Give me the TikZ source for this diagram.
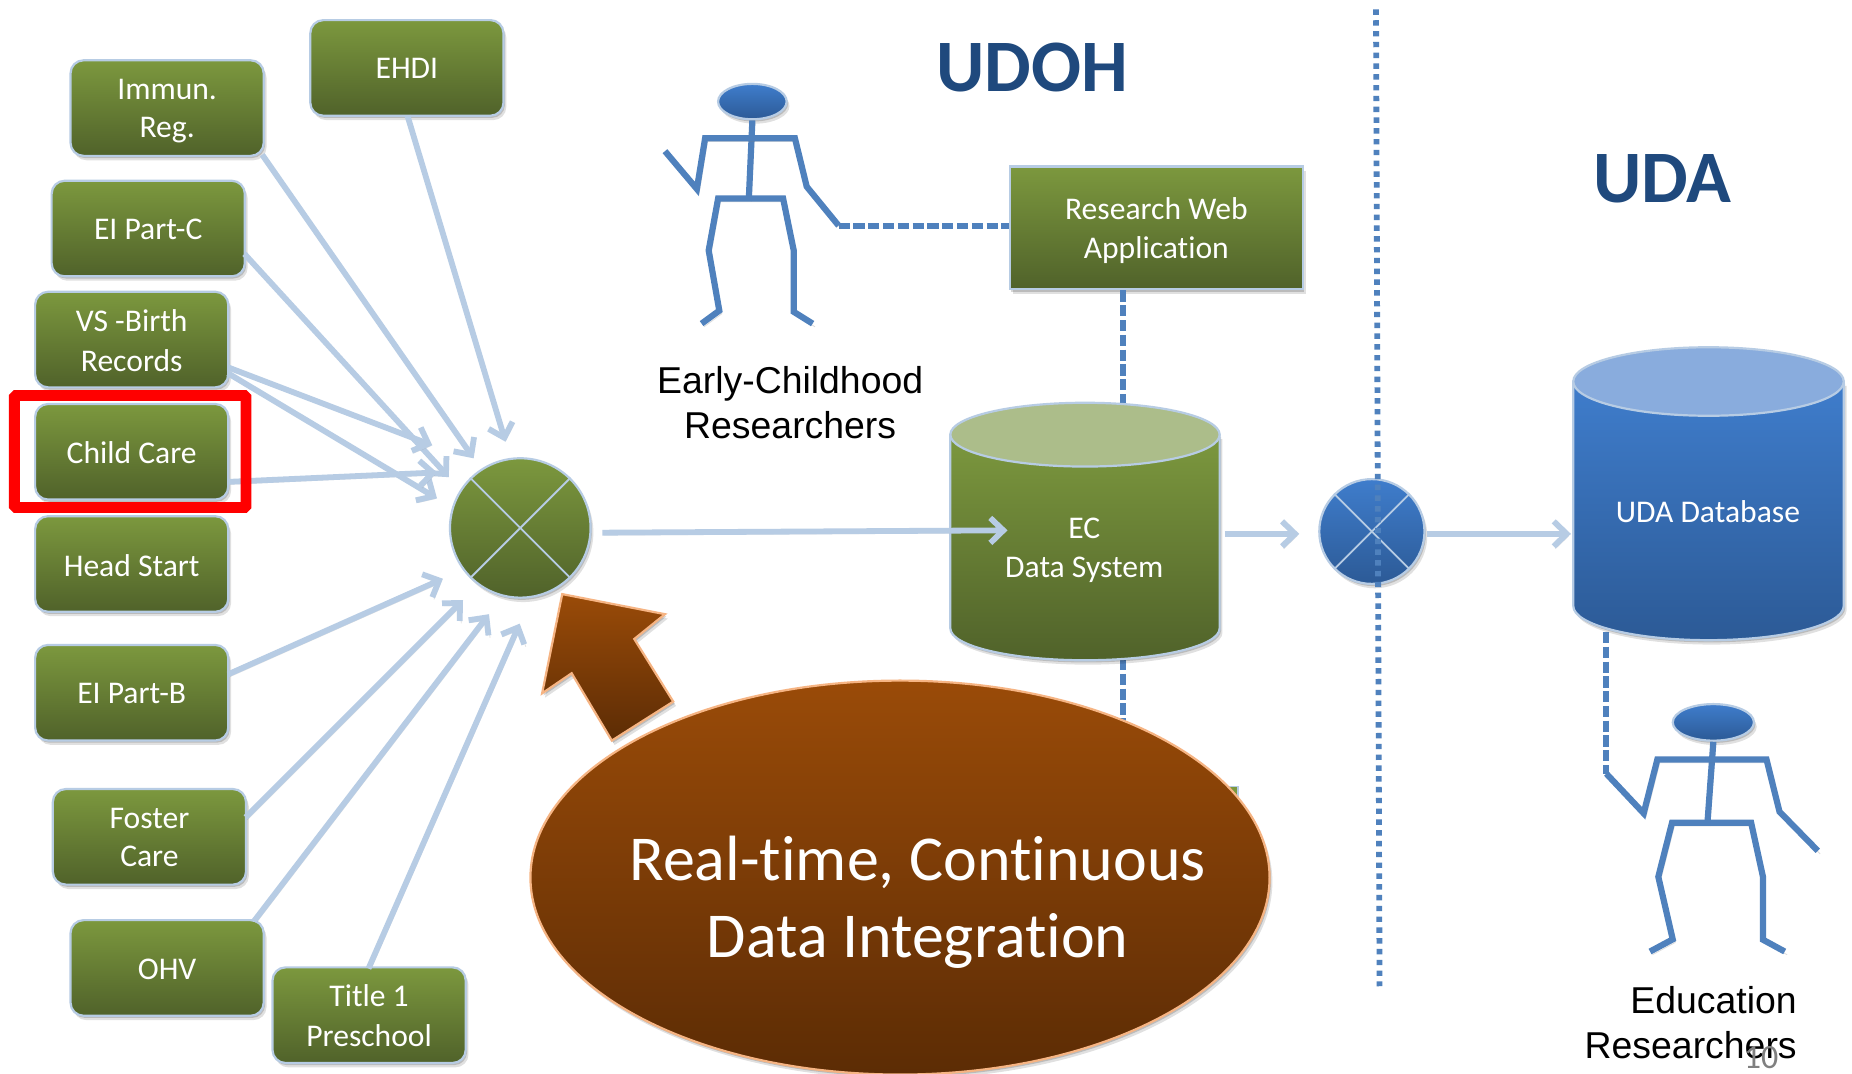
\documentclass[tikz,border=0pt]{standalone}
\usepackage{fontspec}
\setmainfont[Ligatures=NoCommon]{Carlito}
\newfontfamily\arialfont{Liberation Sans}
\usetikzlibrary{arrows.meta,shapes.geometric,shadows,calc}
\definecolor{gtop}{HTML}{7C983E}
\definecolor{gbot}{HTML}{50622A}
\definecolor{btop}{HTML}{3F7DCC}
\definecolor{bbot}{HTML}{2C5A96}
\definecolor{lblue}{HTML}{B7CCE4}
\definecolor{sblue}{HTML}{4F81BD}
\definecolor{navy}{HTML}{1F497D}
\definecolor{brtop}{HTML}{9A4B08}
\definecolor{brbot}{HTML}{5C2C05}
\definecolor{orangeline}{HTML}{F6B483}
\tikzset{
 softshadow/.style={drop shadow={shadow xshift=.7pt,shadow yshift=-1.1pt,opacity=.16,fill=black},
                    drop shadow={shadow xshift=1.4pt,shadow yshift=-2.2pt,opacity=.12,fill=black}},
 gshade/.style={top color=gtop,bottom color=gbot,draw=lblue,line width=1.1pt},
 bshade/.style={top color=btop,bottom color=bbot,draw=lblue,line width=1.1pt},
 srcbox/.style={gshade,softshadow,rounded corners=6.5pt,minimum width=96.6pt,minimum height=47.8pt,
   text=white,align=center,inner sep=0pt,font=\fontsize{15.8}{19.4}\selectfont},
 rectbox/.style={gshade,softshadow,minimum width=146.5pt,minimum height=61.4pt,
   text=white,align=center,inner sep=0pt,font=\fontsize{15.8}{19.4}\selectfont},
 mixg/.style={ellipse,gshade,softshadow,minimum width=70.3pt,minimum height=69.7pt,inner sep=0pt},
 mixb/.style={ellipse,bshade,softshadow,minimum width=52.6pt,minimum height=52.4pt,inner sep=0pt},
 xline/.style={lblue,line width=.9pt},
 conn/.style={lblue,line width=2.9pt,-{Straight Barb[length=6.5pt,width=12.5pt,line width=2.9pt]},
   preaction={draw=gray,opacity=.22,transform canvas={xshift=.8pt,yshift=-1.2pt}}},
 dashconn/.style={sblue,line width=3pt,dash pattern=on 5.6pt off 1.8pt},
 dotline/.style={sblue,line width=2.9pt,dash pattern=on 2.7pt off 2.7pt},
 stick/.style={sblue,line width=3.1pt,miter limit=4,
   preaction={draw=gray,opacity=.28,transform canvas={xshift=1.2pt,yshift=-1.6pt}}},
 head/.style={ellipse,bshade,softshadow,inner sep=0pt},
 celllabel/.style={text=white,align=center,inner sep=0pt,font=\fontsize{15.8}{19.4}\selectfont},
 blacklabel/.style={text=black,inner sep=0pt,font=\arialfont\fontsize{18.7}{22.6}\selectfont},
 bigtitle/.style={text=navy,inner sep=0pt,font=\bfseries\fontsize{37}{40}\selectfont},
 redframe/.style={draw={rgb,255:red,255;green,0;blue,0},line width=5.4pt,rounded corners=.8pt},
}
% cylinder: centre x, x radius, top centre y, bottom centre y, y radius, top fill colour, side style
\newcommand{\drumshape}[7]{%
 \pgfmathsetmacro{\cL}{#1-#2}\pgfmathsetmacro{\cR}{#1+#2}
 \pgfmathsetmacro{\kx}{.5523*#2}\pgfmathsetmacro{\ky}{.5523*#5}
 \pgfmathsetmacro{\bl}{#4+\ky}\pgfmathsetmacro{\bm}{#4+#5}
 \pgfmathsetmacro{\xa}{#1-\kx}\pgfmathsetmacro{\xb}{#1+\kx}
 \path[#7,softshadow] (\cL,#3) -- (\cL,#4) .. controls (\cL,\bl) and (\xa,\bm) .. (#1,\bm)
   .. controls (\xb,\bm) and (\cR,\bl) .. (\cR,#4) -- (\cR,#3) -- cycle;
 \path[fill=#6,draw=lblue,line width=1.1pt] (#1,#3) ellipse [x radius=#2,y radius=#5];
}
\newcommand{\dn}[2][.6pt]{\raisebox{-#1}[\height][\depth]{#2}}
\begin{document}
\begin{tikzpicture}[x=0.5906pt,y=-0.5906pt]
\useasboundingbox (0,0) rectangle (1568,909.3);
\fill[white] (0,0) rectangle (1568,909.3);

% named ends
\coordinate (eEHDI) at (428,374);
\coordinate (eImm) at (401,388);
\coordinate (eEIC) at (380,404);
\coordinate (eVSa) at (366,377);
\coordinate (eVSb) at (370,422);
\coordinate (eCC) at (370,400);
\coordinate (eEIB) at (375,490);
\coordinate (eFos) at (392,508);
\coordinate (eOHV) at (414,520);
\coordinate (eTit) at (440,528);
\coordinate (sEHDI) at (345,98);
\coordinate (sImm) at (222,131);
\coordinate (sEIC) at (207,215);
\coordinate (sVSa) at (193,311);
\coordinate (sVSb) at (193,316);
\coordinate (sCC) at (193,408);
\coordinate (sEIB) at (193,571);
\coordinate (sFos) at (208,692);
\coordinate (sOHV) at (215,780);
\coordinate (sTit) at (312,820);
\coordinate (ecIn) at (853,449);
\coordinate (ecTop) at (951,345);
\coordinate (ecBot) at (951,558);
\coordinate (ecLow) at (951,625);
\coordinate (ecOut) at (1037,452);
\coordinate (mixbIn) at (1100,452);
\coordinate (udaIn) at (1330,452);
\coordinate (udaLow) at (1360,535);
\coordinate (handA) at (710,191);
\coordinate (handB) at (1360,655);
\coordinate (dotTop) at (1165,8);
\coordinate (dotBot) at (1168,835);

% dashed connectors behind shapes
\node[rectbox] (rwa) at (979,193) {\dn[1.5pt]{Research Web}\\\dn[1.5pt]{Application}};
\draw[dashconn] (rwa.south -| ecTop) -- (ecTop);
\draw[dashconn] (ecBot) -- (ecLow);
\draw[dashconn] (handA) -- (rwa.west |- handA);
\draw[dashconn] (udaLow) -- (handB);

% hidden box corner behind the ellipse
\path[fill=gtop,draw=lblue,line width=.8pt] (1000,666) rectangle (1048,720);

% source boxes
\node[srcbox] (ehdi) at (344.5,57.5) {EHDI};
\node[srcbox] (imm) at (141.5,91.5) {\dn[1.5pt]{Immun.}\\\dn[1.5pt]{Reg.}};
\node[srcbox] (eic) at (125.5,193.5) {\dn{EI Part-C}};
\node[srcbox] (vs) at (111.5,287.5) {VS -Birth\\\dn{Records}};
\node[srcbox] (cc) at (111.5,382.5) {\dn{Child Care}};
\node[srcbox] (hs) at (111.5,477.5) {\dn{Head Start}};
\node[srcbox] (eib) at (111.5,586.5) {\dn{EI Part-B}};
\node[srcbox] (fos) at (126.5,708.5) {\dn{Foster}\\Care};
\node[srcbox] (ohv) at (141.5,819.5) {\dn{OHV}};
\node[srcbox] (tit) at (312.5,859.5) {Title 1\\\dn{Preschool}};

% connectors to the mixer
\draw[conn] (sEHDI) -- (eEHDI);
\draw[conn] (sImm) -- (eImm);
\draw[conn] (sEIC) -- (eEIC);
\draw[conn] (sVSa) -- (eVSa);
\draw[conn] (sVSb) -- (eVSb);
\draw[conn] (sCC) -- (eCC);
\draw[conn] (sEIB) -- (eEIB);
\draw[conn] (sFos) -- (eFos);
\draw[conn] (sOHV) -- (eOHV);
\draw[conn] (sTit) -- (eTit);

% red highlight
\node[redframe,minimum width=115.8pt,minimum height=56pt,inner sep=0pt] (hilite) at (110.2,382.3) {};

% green mixer
\node[mixg] (mix) at (440.5,447) {};
\draw[xline] (mix.45) -- (mix.225);
\draw[xline] (mix.135) -- (mix.315);

% EC data system
\drumshape{918.6}{114}{368}{532}{27}{{rgb,255:red,172;green,189;blue,138}}{gshade}
\node[celllabel] (ecs) at (918,466) {EC\\Data System};
\coordinate (mixOut) at (510,451);
\draw[conn] (mixOut) -- (ecIn);
\draw[conn] (ecOut) -- (mixbIn);

% UDA database
\drumshape{1446.5}{114.5}{323}{513}{29}{{rgb,255:red,137;green,172;blue,221}}{bshade}
\node[celllabel] (udadb) at (1446,433) {UDA Database};

% blue mixer and boundary
\node[mixb] (bmix) at (1161.5,450) {};
\draw[xline] (bmix.45) -- (bmix.225);
\draw[xline] (bmix.135) -- (bmix.315);
\coordinate (bmixOut) at (1208,452);
\draw[conn] (bmixOut) -- (udaIn);
\draw[dotline] (dotTop) -- (dotBot);

% titles
\node[bigtitle] (udoh) at (874,57) {UDOH};
\node[bigtitle] (uda) at (1407.5,151) {UDA};

% researcher 1
\node[head,minimum width=34.3pt,minimum height=17.7pt] (h1) at (637,86) {};
\draw[stick] (h1.south) -- (634,168);
\draw[stick] (563,128) -- (590,160) -- (597,117) -- (673,117) -- (683,158) -- (handA);
\draw[stick] (594,274) -- (609,263) -- (600,212) -- (608,168) -- (663,168) -- (672,212) -- (672,264) -- (688,274);
\node[blacklabel,align=center] (lab1) at (669,341) {Early-Childhood\\Researchers};

% researcher 2
\node[head,minimum width=40.6pt,minimum height=18.3pt] (h2) at (1450.6,611.6) {};
\draw[stick] (h2.south) -- (1445.6,696.6);
\draw[stick] (handB) -- (1391.6,688.6) -- (1403.2,643) -- (1495.6,643) -- (1506.6,687.2) -- (1539,720.3);
\draw[stick] (1397,805.6) -- (1416.2,795.3) -- (1404,742.3) -- (1415.6,696.6) -- (1482.6,696.6) -- (1492.6,742.3) -- (1492.6,795.6) -- (1511,805.6);
\node[blacklabel,align=right,anchor=east] (lab2) at (1521.5,866) {Education\\Researchers};

% big arrow
\path[top color=brtop,bottom color=brbot,draw=orangeline,line width=1.1pt,softshadow]
  (476,503) -- (563,520) -- (537,541) -- (570,594) -- (518,627) -- (484,570) -- (459,587) -- cycle;

% big ellipse
\node[ellipse,top color=brtop,bottom color=brbot,draw=orangeline,line width=1.1pt,softshadow,
  minimum width=369.6pt,minimum height=197pt,inner sep=0pt] (callout) at (762,743) {};
\node[text=white,align=center,inner sep=0pt,font=\fontsize{32}{38.4}\selectfont] (calltext) at (777,764) {Real-time, Continuous\\Data Integration};

% page number
\node[anchor=base,text=gray,inner sep=0pt,font=\fontsize{17}{20}\selectfont] (pg) at (1491,905) {10};
\end{tikzpicture}
\end{document}
